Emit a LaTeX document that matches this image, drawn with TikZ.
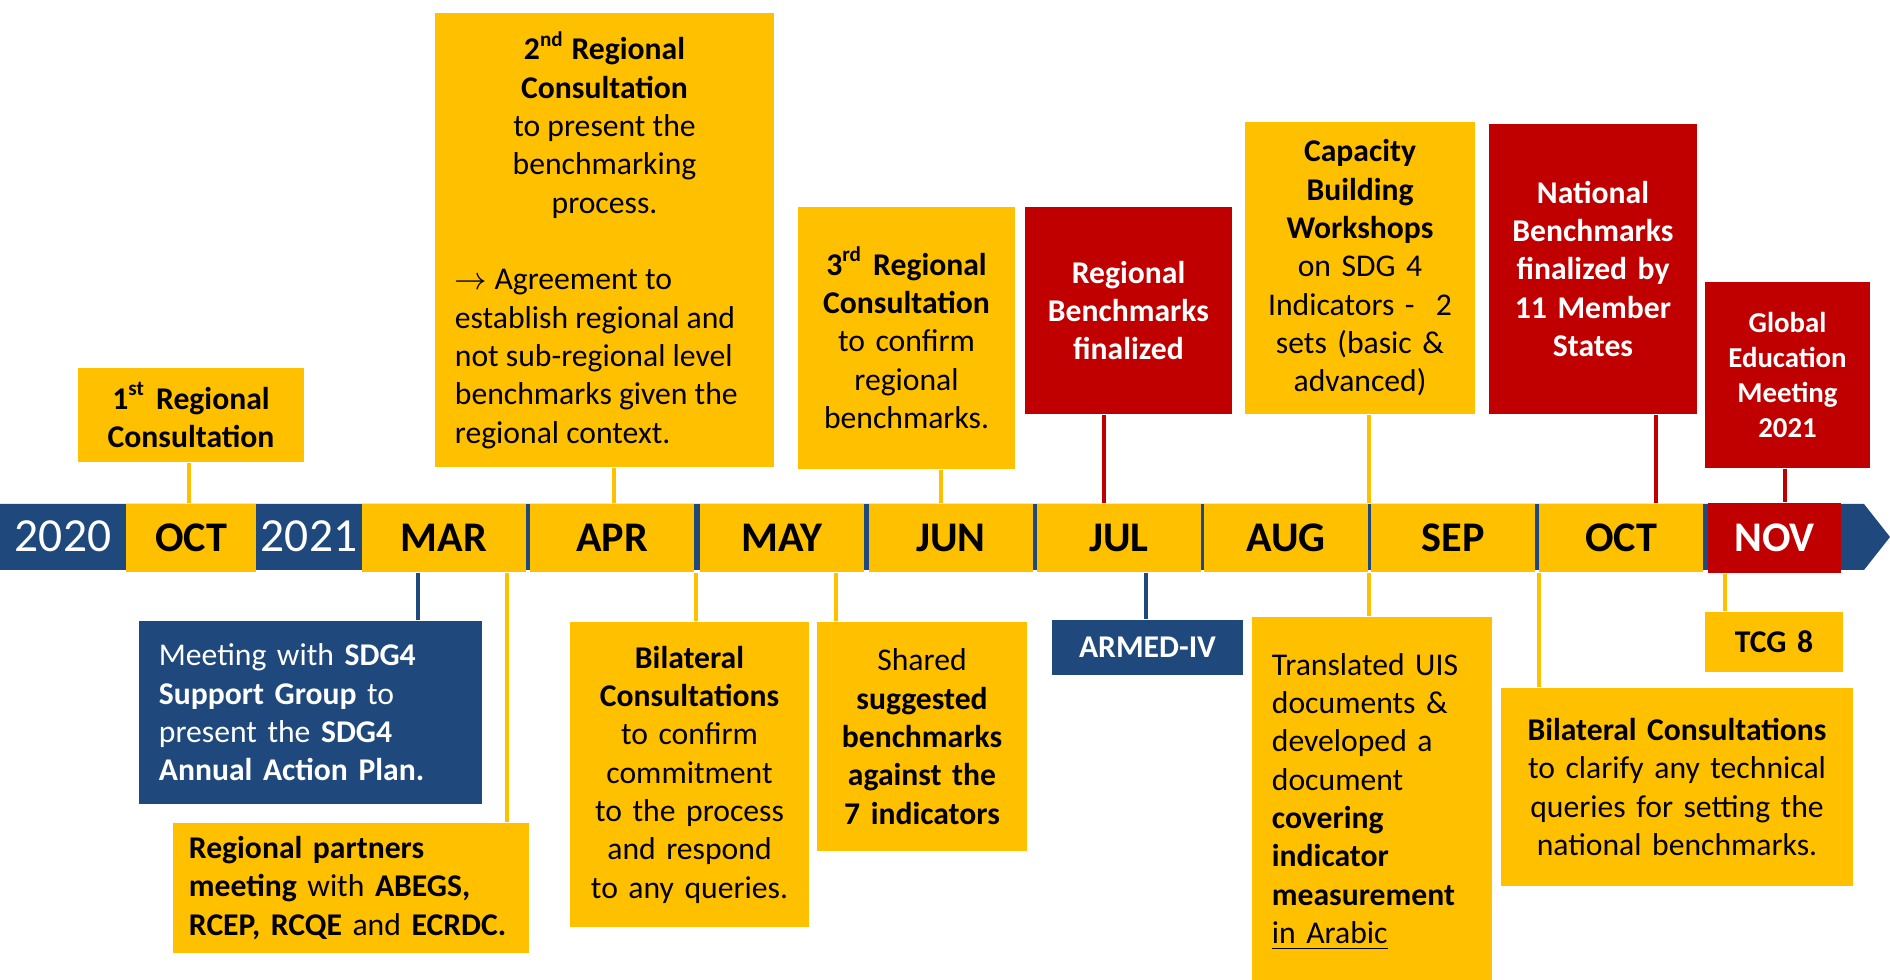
\documentclass[tikz,border=0pt]{standalone}
\usepackage{fontspec}
\setmainfont{Carlito}
\usepackage{tikz}
\usepackage{xcolor}

\definecolor{tlyellow}{HTML}{FFC000}
\definecolor{tlred}{HTML}{C00000}
\definecolor{tlblue}{HTML}{1F497D}
\newcommand{\boxfont}{\fontsize{9}{10.9}\selectfont}
\newcommand{\gemfont}{\fontsize{8.2}{10}\selectfont}
\newcommand{\monthfont}{\fontsize{12}{14}\selectfont\bfseries}
\newcommand{\yearfont}{\fontsize{13.5}{16}\selectfont}

\begin{document}
\begin{tikzpicture}[x=0.01cm, y=-0.01cm,
    ybox/.style={fill=tlyellow, text=black, inner xsep=0.2cm, inner ysep=0pt, font=\boxfont, align=center},
    rbox/.style={fill=tlred, text=white, inner xsep=0.2cm, inner ysep=0pt, font=\boxfont\bfseries, align=center},
    bbox/.style={fill=tlblue, text=white, inner xsep=0.2cm, inner ysep=0pt, font=\boxfont, align=center},
    month/.style={fill=tlyellow, minimum width=1.64cm, minimum height=0.68cm, inner sep=0pt, font=\monthfont, text height=7.7pt, text depth=0pt},
    year/.style={text=white, inner sep=0pt, font=\yearfont, text height=8.5pt, text depth=0pt},
    ylink/.style={draw=tlyellow, line width=1pt},
    rlink/.style={draw=tlred, line width=1pt},
    blink/.style={draw=tlblue, line width=1pt}]
    \useasboundingbox (0,0) rectangle (1890,980);
    \fill[tlblue] (0,504) -- (1864,504) -- (1890,537) -- (1864,570) -- (0,570) -- cycle;
    \node[year] at (63,537) (y2020) {2020};
    \node[month, minimum width=1.30cm] at (191,538) (oct20) {OCT};
    \node[year] at (309,537) (y2021) {2021};
    \node[month] at (444,538) (mar) {MAR};
    \node[month] at (612,538) (apr) {APR};
    \node[month] at (782,538) (may) {MAY};
    \node[month] at (951,538) (jun) {JUN};
    \node[month] at (1119,538) (jul) {JUL};
    \node[month] at (1286,538) (aug) {AUG};
    \node[month] at (1453,538) (sep) {SEP};
    \node[month] at (1621,538) (oct) {OCT};
    \node[month, fill=tlred, text=white, minimum width=1.33cm, minimum height=0.70cm] at (1774.5,538) (nov) {NOV};
    \node[ybox, font=\boxfont\bfseries, text width=1.86cm, minimum height=0.94cm] at (191,415) (reg1)
        {1\textsuperscript{st}~Regional\\ Consultation};
    \node[ybox, align=none, text width=2.99cm, minimum height=4.54cm] at (604.5,240) (reg2)
        {\centering\textbf{2\textsuperscript{nd}~Regional}\\ \textbf{Consultation}\\ to present the\\ benchmarking\\ process.\par
        \vspace{\baselineskip}\raggedright$\rightarrow$ Agreement to\\ establish regional and\\ not sub-regional level\\ benchmarks given the\\ regional context.\par};
    \node[ybox, text width=1.77cm, minimum height=2.62cm] at (906.5,338) (reg3)
        {\textbf{3\textsuperscript{rd}~Regional}\\ \textbf{Consultation}\\ to confirm\\ regional\\ benchmarks.};
    \node[rbox, text width=1.67cm, minimum height=2.07cm] at (1128.5,310.5) (regbm)
        {Regional\\ Benchmarks\\ finalized};
    \node[ybox, text width=1.90cm, minimum height=2.92cm] at (1360,268) (capbld)
        {\textbf{Capacity}\\ \textbf{Building}\\ \textbf{Workshops}\\ on SDG 4\\ Indicators -\ \ 2\\ sets (basic \&\\ advanced)};
    \node[rbox, text width=1.68cm, minimum height=2.90cm] at (1593,269) (natbm)
        {National\\ Benchmarks\\ finalized by\\ 11 Member\\ States};
    \node[rbox, font=\gemfont\bfseries, text width=1.25cm, minimum height=1.86cm] at (1787.5,375) (gem)
        {Global\\ Education\\ Meeting\\ 2021};
    \node[bbox, align=left, text width=3.03cm, minimum height=1.83cm] at (310.5,712.5) (sdgmeet)
        {Meeting with \textbf{SDG4}\\ \textbf{Support Group} to\\ present the \textbf{SDG4}\\ \textbf{Annual Action Plan.}};
    \node[ybox, align=left, inner xsep=0.16cm, text width=3.24cm, minimum height=1.30cm] at (351,888) (partners)
        {\textbf{Regional partners}\\ \textbf{meeting} with \textbf{ABEGS,}\\ \textbf{RCEP, RCQE} and \textbf{ECRDC.}};
    \node[ybox, text width=1.99cm, minimum height=3.05cm] at (689.5,774.5) (bilat1)
        {\textbf{Bilateral}\\ \textbf{Consultations}\\ to confirm\\ commitment\\ to the process\\ and respond\\ to any queries.};
    \node[ybox, text width=1.70cm, minimum height=2.29cm] at (922,736.5) (shared)
        {Shared\\ \textbf{suggested}\\ \textbf{benchmarks}\\ \textbf{against the}\\ \textbf{7 indicators}};
    \node[bbox, font=\boxfont\bfseries, text width=1.51cm, minimum height=0.55cm] at (1147.5,647.5) (armed)
        {ARMED-IV};
    \node[ybox, align=left, text width=2.00cm, minimum height=3.70cm] at (1372,802) (transl)
        {Translated UIS\\ documents \&\\ developed a\\ document\\ \textbf{covering}\\ \textbf{indicator}\\ \textbf{measurement}\\ \underline{in Arabic}};
    \node[ybox, font=\boxfont\bfseries, text width=0.98cm, minimum height=0.60cm] at (1774,642) (tcg)
        {TCG 8};
    \node[ybox, text width=3.12cm, minimum height=1.98cm] at (1677,787) (bilat2)
        {\textbf{Bilateral Consultations}\\ to clarify any technical\\ queries for setting the\\ national benchmarks.};
    \path
    (reg1.south -| 189,0) edge[ylink] (oct20.north -| 189,0)
    (reg2.south -| 614,0) edge[ylink] (apr.north -| 614,0)
    (reg3.south -| 941,0) edge[ylink] (jun.north -| 941,0)
    (regbm.south -| 1104,0) edge[rlink] (jul.north -| 1104,0)
    (capbld.south -| 1369,0) edge[ylink] (sep.north -| 1369,0)
    (natbm.south -| 1656,0) edge[rlink] (oct.north -| 1656,0)
    (gem.south -| 1785,0) edge[rlink] (nov.north -| 1785,0)
    (mar.south -| 418,0) edge[blink] (sdgmeet.north -| 418,0)
    (mar.south -| 507,0) edge[ylink] (partners.north -| 507,0)
    (apr.south -| 696,0) edge[ylink] (bilat1.north -| 696,0)
    (may.south -| 836,0) edge[ylink] (shared.north -| 836,0)
    (jul.south -| 1146,0) edge[blink] (armed.north -| 1146,0)
    (sep.south -| 1369,0) edge[ylink] (transl.north -| 1369,0)
    (oct.south -| 1539,0) edge[ylink] (bilat2.north -| 1539,0)
    (nov.south -| 1725,0) edge[ylink] (tcg.north -| 1725,0)
    ;
\end{tikzpicture}
\end{document}
